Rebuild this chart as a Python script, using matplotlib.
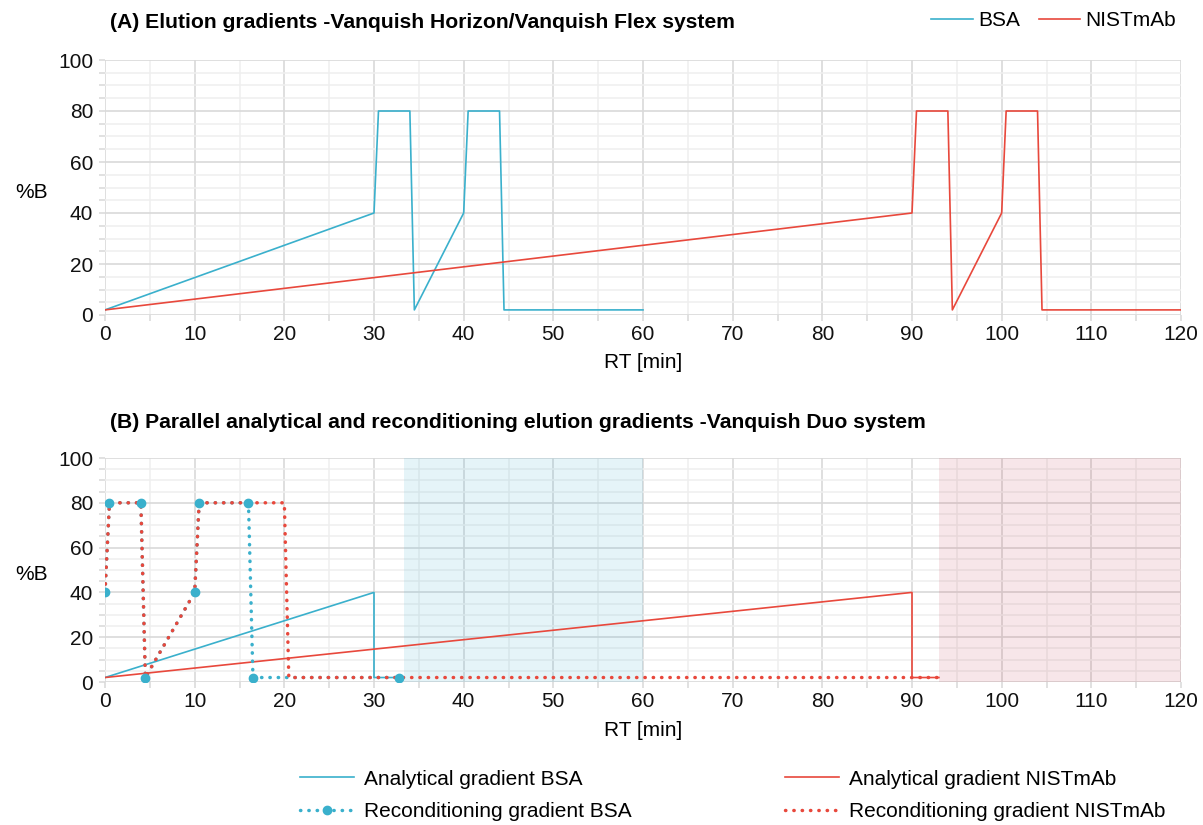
import matplotlib
matplotlib.use("Agg")
import matplotlib.pyplot as plt
from matplotlib.lines import Line2D
from matplotlib.ticker import MultipleLocator

plt.rcParams['font.family'] = ['Liberation Sans', 'DejaVu Sans']

# ---------------- data ----------------
# Panel A
bsa_a_t = [0, 30, 30.5, 34, 34.5, 40, 40.5, 44, 44.5, 60]
bsa_a_b = [2, 40, 80, 80, 2, 40, 80, 80, 2, 2]
nist_a_t = [0, 90, 90.5, 94, 94.5, 100, 100.5, 104, 104.5, 120]
nist_a_b = [2, 40, 80, 80, 2, 40, 80, 80, 2, 2]

# Panel B
bsa_anal_t = [0, 30, 30, 32.8]
bsa_anal_b = [2, 40, 2, 2]
nist_anal_t = [0, 90, 90, 93]
nist_anal_b = [2, 40, 2, 2]
bsa_rec_t = [0, 0.5, 4, 4.5, 10, 10.5, 16, 16.5, 32.8]
bsa_rec_b = [40, 80, 80, 2, 40, 80, 80, 2, 2]
nist_rec_t = [0, 0.5, 4, 4.5, 10, 10.5, 20, 20.5, 93]
nist_rec_b = [40, 80, 80, 2, 40, 80, 80, 2, 2]
bsa_shade = (33.3, 60)
nist_shade = (93, 120)

title_a = "(A) Elution gradients -Vanquish Horizon/Vanquish Flex system"
title_b = "(B) Parallel analytical and reconditioning elution gradients -Vanquish Duo system"

BLUE = '#3ab0cc'
RED = '#e8483c'
FS = 15
TFS = 15.2

fig = plt.figure(figsize=(12.03, 8.25), dpi=100)
W, H = 1203, 825


def make_ax(left, right, top, bottom):
    ax = fig.add_axes([left / W, 1 - bottom / H, (right - left) / W, (bottom - top) / H])
    ax.set_xlim(0, 120)
    ax.set_ylim(0, 100)
    ax.xaxis.set_major_locator(MultipleLocator(10))
    ax.xaxis.set_minor_locator(MultipleLocator(5))
    ax.yaxis.set_major_locator(MultipleLocator(20))
    ax.yaxis.set_minor_locator(MultipleLocator(5))
    ax.set_axisbelow(True)
    ax.grid(which='major', color='#d9d9d9', lw=1.2)
    ax.grid(which='minor', color='#efefef', lw=1.1)
    for s in ax.spines.values():
        s.set_visible(False)
    ax.tick_params(which='both', length=4.5, color='#d9d9d9', width=1.1,
                   labelsize=FS, labelcolor='#111111')
    ax.tick_params(axis='y', which='both', pad=4)
    ax.tick_params(axis='x', which='both', pad=3)
    ax.set_ylabel('%B', rotation=0, fontsize=FS, va='center', ha='center')
    ax.yaxis.set_label_coords(-0.068, 0.48)
    return ax


# Panel A
axA = make_ax(105, 1181, 60, 315)
axA.plot(bsa_a_t, bsa_a_b, color=BLUE, lw=1.2, label='BSA')
axA.plot(nist_a_t, nist_a_b, color=RED, lw=1.2, label='NISTmAb')
axA.set_xlabel('RT [min]', fontsize=FS)
axA.xaxis.set_label_coords(0.5, -(362 - 315) / 255)
axA.xaxis.label.set_va('center')
fig.text(110 / W, 1 - 22 / H, title_a, fontsize=TFS, fontweight='bold', va='center', ha='left')
fig.legend(handles=[Line2D([], [], color=BLUE, lw=1.2), Line2D([], [], color=RED, lw=1.2)],
           labels=['BSA', 'NISTmAb'], loc='center right',
           bbox_to_anchor=(1176 / W, 1 - 21 / H), ncol=2, frameon=False, fontsize=FS,
           handlelength=2.0, handletextpad=0.25, columnspacing=0.9, borderpad=0, borderaxespad=0)

# Panel B
axB = make_ax(105, 1181, 458, 682)
axB.axvspan(*bsa_shade, color='#3aafd0', alpha=0.13, lw=0, zorder=0.8)
axB.axvspan(*nist_shade, color='#c0394a', alpha=0.12, lw=0, zorder=0.8)
axB.plot(bsa_anal_t, bsa_anal_b, color=BLUE, lw=1.2, zorder=3)
axB.plot(nist_anal_t, nist_anal_b, color=RED, lw=1.2, zorder=3)
dots = (0, (0.1, 2.3))
axB.plot(bsa_rec_t, bsa_rec_b, color=BLUE, lw=2.5, linestyle=dots,
         dash_capstyle='round', zorder=4)
axB.plot(nist_rec_t, nist_rec_b, color=RED, lw=2.5, linestyle=dots,
         dash_capstyle='round', zorder=5)
axB.plot(bsa_rec_t, bsa_rec_b, color=BLUE, lw=0, marker='o', markersize=6, zorder=6)
axB.set_xlabel('RT [min]', fontsize=FS)
axB.xaxis.set_label_coords(0.5, -(731 - 682) / 224)
axB.xaxis.label.set_va('center')
fig.text(110 / W, 1 - 423 / H, title_b, fontsize=TFS, fontweight='bold', va='center', ha='left')

# Bottom legend (two columns)
h_ab = Line2D([], [], color=BLUE, lw=1.2)
h_rb = Line2D([], [], color=BLUE, lw=2.5, linestyle=dots, dash_capstyle='round',
              marker='o', markersize=6)
h_an = Line2D([], [], color=RED, lw=1.2)
h_rn = Line2D([], [], color=RED, lw=2.5, linestyle=dots, dash_capstyle='round')
common = dict(frameon=False, fontsize=FS, handlelength=2.6, handletextpad=0.45,
              labelspacing=0.65, borderpad=0, borderaxespad=0, numpoints=1)
fig.legend(handles=[h_ab, h_rb], labels=['Analytical gradient BSA', 'Reconditioning gradient BSA'],
           loc='center left', bbox_to_anchor=(300 / W, 1 - 795.5 / H), **common)
fig.legend(handles=[h_an, h_rn], labels=['Analytical gradient NISTmAb', 'Reconditioning gradient NISTmAb'],
           loc='center left', bbox_to_anchor=(785 / W, 1 - 795.5 / H), **common)

fig.savefig('out.png', dpi=100)
